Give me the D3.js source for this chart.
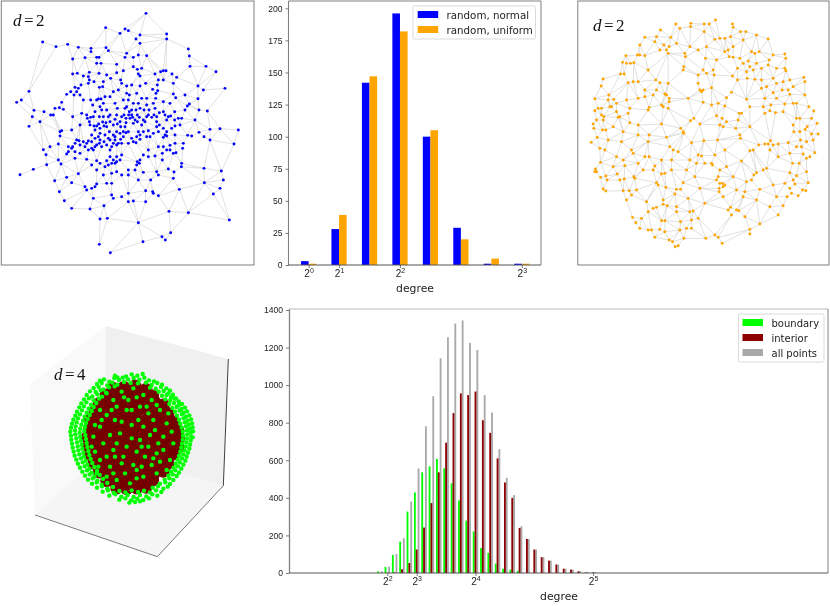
<!DOCTYPE html>
<html>
<head>
<meta charset="utf-8">
<script src="https://cdn.jsdelivr.net/npm/d3@7"></script>
<style>
  body { margin: 0; background: #fff; }
  svg { display: block; font-family: "DejaVu Sans", sans-serif; filter: blur(0.3px); }
  .axis path, .axis line { stroke: #444; stroke-width: 0.7; }
  .axis text { fill: #222; font-size: 8.6px; }
  .lbl { fill: #222; }
  .math { font-family: "Liberation Serif", serif; font-size: 17px; fill: #111; }
</style>
</head>
<body>
<div id="fig"></div>
<script>
// values, node positions are in 3x crop units
var bluePoints = [[438,40],[500,102],[500,117],[420,105],[408,117],[385,92],[375,87],[360,100],[317,83],[318,143],[325,152],[128,126],[168,140],[203,133],[235,142],[273,145],[273,155],[218,177],[255,173],[290,172],[297,172],[290,190],[303,190],[350,193],[380,160],[375,172],[400,172],[415,165],[440,167],[420,130],[565,147],[568,168],[570,199],[618,199],[648,215],[675,265],[715,390],[702,432],[664,513],[670,540],[660,565],[640,582],[613,548],[688,660],[565,638],[507,634],[538,568],[512,698],[496,720],[486,710],[429,725],[415,668],[331,758],[298,733],[300,657],[322,655],[312,617],[270,627],[215,625],[193,602],[178,575],[164,542],[140,494],[100,508],[60,524],[138,464],[130,449],[87,379],[97,350],[120,365],[102,331],[132,335],[50,307],[64,300],[87,274],[630,388],[660,386],[630,420],[612,505],[612,410],[597,397],[575,408],[563,406],[585,360],[622,333],[597,330],[594,296],[594,258],[610,270],[568,312],[562,318],[555,330],[520,250],[530,232],[516,222],[498,212],[490,212],[482,215],[465,222],[475,240],[490,240],[400,200],[412,208],[425,205],[415,222],[420,228],[370,212],[350,218],[320,225],[297,220],[268,217],[265,230],[250,228],[218,222],[232,220],[243,255],[268,240],[265,250],[282,245],[298,262],[310,245],[332,235],[362,240],[365,250],[380,258],[395,255],[420,258],[437,250],[458,268],[472,255],[468,280],[473,272],[520,282],[555,285],[527,293],[510,310],[490,305],[467,295],[440,295],[425,295],[410,280],[388,285],[380,280],[355,270],[340,275],[330,290],[308,260],[295,297],[303,297],[278,315],[300,320],[310,310],[320,330],[330,345],[352,325],[380,320],[395,330],[372,345],[235,265],[225,262],[230,275],[222,285],[240,285],[212,275],[200,283],[250,300],[185,307],[178,323],[165,325],[190,328],[160,345],[152,345],[218,350],[260,345],[262,355],[268,365],[285,335],[298,350],[310,350],[325,350],[330,365],[360,365],[365,350],[378,355],[378,368],[395,345],[408,330],[420,325],[432,330],[447,330],[465,325],[490,335],[495,345],[524,335],[524,360],[535,355],[545,355],[540,375],[525,378],[500,395],[490,385],[478,375],[470,365],[445,345],[430,360],[425,375],[435,365],[405,360],[400,370],[415,395],[430,395],[445,392],[470,380],[475,395],[450,410],[490,412],[495,405],[525,405],[550,430],[548,445],[520,460],[510,436],[490,440],[487,460],[487,480],[465,468],[445,450],[430,465],[412,485],[418,490],[410,495],[385,510],[405,510],[430,517],[470,515],[475,525],[505,507],[522,516],[520,535],[545,490],[544,500],[528,458],[180,395],[185,392],[180,408],[175,432],[150,440],[205,440],[218,440],[205,455],[200,462],[230,420],[237,422],[240,435],[250,425],[260,430],[265,423],[275,425],[280,450],[275,445],[295,410],[300,420],[298,430],[305,440],[320,435],[330,420],[345,410],[355,430],[365,430],[370,395],[375,380],[360,400],[350,395],[320,380],[312,378],[300,385],[290,378],[285,390],[270,375],[240,375],[215,390],[175,480],[183,492],[225,475],[240,460],[260,478],[275,495],[290,482],[300,490],[320,482],[330,470],[340,480],[350,485],[365,465],[330,450],[335,440],[290,510],[310,525],[315,500],[335,520],[350,515],[365,525],[235,521],[200,532],[215,548],[255,560],[260,570],[275,565],[285,560],[290,552],[280,595],[320,550],[335,585],[335,550],[340,595],[365,590],[385,580],[385,605],[400,603],[437,572],[437,605],[460,580],[458,575],[475,587],[452,540],[415,540],[385,525],[400,425],[408,428],[385,430],[395,415],[420,405],[370,410],[345,420],[325,415],[272,352],[282,378],[296,372],[308,366],[318,368],[340,375],[345,358],[352,372],[362,380],[386,345],[390,355],[398,352],[412,345],[418,352],[412,365],[440,350],[455,352],[462,345],[470,350],[478,338],[500,360],[505,350],[512,348],[515,385],[500,408],[460,400],[440,410],[420,418],[410,410],[385,395],[378,398],[362,418],[350,435],[340,430],[312,425],[290,435],[285,440],[265,450],[255,440],[225,430],[215,445],[300,400],[315,405],[328,395],[340,405],[275,405],[285,415],[350,470],[345,490],[335,490],[360,480],[325,495],[420,480],[445,470],[475,440],[500,450],[510,450],[525,430],[290,300],[315,290],[345,310],[370,300],[385,300],[400,310],[415,310],[440,315],[460,310],[375,325],[388,335],[350,345],[245,340],[280,350],[272,300],[305,330],[225,455]];

var orangePoints = [[417,60],[468,72],[470,82],[398,72],[383,72],[343,70],[342,80],[298,72],[310,85],[252,90],[240,110],[205,112],[235,125],[190,135],[183,165],[190,165],[205,167],[148,167],[138,187],[150,190],[162,190],[172,188],[215,210],[132,222],[143,222],[80,237],[74,258],[97,285],[55,296],[112,298],[120,310],[65,325],[55,332],[75,325],[100,320],[105,320],[120,335],[75,345],[82,350],[80,360],[50,372],[52,385],[78,390],[88,390],[62,412],[44,427],[70,445],[85,450],[72,487],[57,507],[55,515],[60,515],[72,532],[88,528],[92,540],[122,522],[130,540],[143,537],[80,567],[88,573],[140,572],[158,572],[165,585],[180,570],[150,600],[168,652],[195,655],[178,668],[190,685],[215,690],[225,690],[235,712],[250,688],[265,662],[255,662],[215,635],[230,625],[240,622],[210,605],[260,600],[260,613],[272,617],[300,620],[300,635],[312,665],[340,635],[350,633],[345,660],[365,655],[345,685],[330,685],[310,690],[322,715],[278,720],[288,725],[296,740],[305,737],[265,695],[388,715],[415,705],[425,712],[437,730],[520,688],[520,702],[465,645],[455,630],[462,622],[480,630],[487,632],[505,650],[550,672],[605,645],[580,620],[620,617],[632,590],[645,580],[640,565],[665,587],[678,570],[688,572],[695,548],[690,515],[660,527],[640,518],[648,490],[668,490],[690,475],[680,462],[715,458],[710,420],[725,402],[705,402],[722,370],[705,355],[692,380],[686,388],[670,395],[670,355],[660,355],[650,375],[652,395],[697,320],[712,333],[685,285],[640,283],[640,240],[682,232],[685,245],[635,270],[625,312],[600,295],[590,278],[565,295],[583,315],[580,332],[565,340],[597,338],[620,335],[660,310],[650,310],[520,380],[510,298],[520,320],[488,340],[495,340],[485,360],[478,385],[490,405],[492,415],[520,452],[530,450],[547,435],[565,432],[575,432],[582,422],[590,435],[605,432],[635,428],[660,440],[672,420],[640,460],[605,470],[580,450],[570,505],[560,510],[540,518],[532,525],[510,545],[525,540],[550,568],[590,555],[625,550],[655,552],[505,575],[480,570],[500,590],[440,590],[428,565],[428,575],[420,540],[430,550],[438,550],[440,560],[445,555],[425,530],[430,510],[405,490],[408,495],[365,465],[375,468],[360,490],[330,510],[320,548],[300,568],[312,568],[295,582],[335,595],[370,565],[355,530],[385,610],[268,562],[240,548],[245,555],[255,522],[265,520],[285,510],[235,498],[205,470],[218,470],[185,490],[172,530],[175,535],[145,497],[120,470],[170,460],[135,425],[185,405],[215,425],[218,405],[270,412],[280,440],[290,450],[305,455],[345,428],[382,422],[423,420],[415,465],[445,450],[495,483],[322,400],[313,385],[255,372],[185,375],[160,368],[140,395],[130,350],[125,352],[155,340],[160,325],[215,330],[218,322],[255,315],[260,320],[275,325],[278,305],[278,295],[270,285],[265,282],[230,285],[205,270],[205,290],[155,248],[170,245],[185,245],[238,240],[250,248],[275,250],[320,210],[322,200],[327,170],[325,160],[275,160],[270,150],[262,135],[250,150],[278,140],[283,112],[300,130],[340,140],[365,150],[390,140],[387,175],[383,95],[415,118],[430,115],[445,115],[420,180],[445,155],[458,170],[470,172],[490,175],[515,183],[520,200],[483,205],[510,215],[540,190],[578,180],[590,165],[575,117],[540,105],[508,95],[492,95],[462,110],[548,155],[625,162],[628,175],[625,205],[628,212],[535,238],[512,235],[468,228],[413,225],[410,210],[380,210],[365,225],[390,220],[483,240],[405,263],[380,270],[375,275],[370,270],[365,250],[335,295],[380,307],[405,315],[425,310],[445,318],[450,293],[465,277],[437,355],[450,365],[430,375],[420,347],[370,372],[352,355],[342,362],[320,395],[440,380],[560,320],[500,120],[470,140],[455,150],[525,155],[535,160],[500,190],[530,210],[555,205],[575,195],[600,205],[590,235],[555,240],[555,265],[570,260],[600,250],[620,245],[617,270],[650,260],[60,360],[95,300],[150,300],[185,295],[240,270],[110,380],[95,420],[110,500],[200,510],[230,510],[165,450],[140,480],[255,480],[285,480],[340,480],[385,490],[450,500],[470,530],[540,600],[600,590],[650,540],[700,470],[675,440],[690,425]];

var degrees = [1, 2, 3, 4, 5, 6, 7, 8];
var randomNormal = [3, 28, 142, 196, 100, 29, 1, 1];
var randomUniform = [1, 39, 147, 182, 105, 20, 5, 1];
var countTicks = [0, 25, 50, 75, 100, 125, 150, 175, 200];

var sphereDegrees = d3.range(3, 33);
var boundary = [9,32,96,167,327,429,536,568,607,557,477,386,278,221,133,107,50,23,18,11,0,0,0,0,0,0,0,0,0,0];
var interior = [0,1,3,20,53,125,242,372,536,694,851,956,947,966,813,746,610,482,400,240,181,125,84,66,45,23,18,9,3,3];
var allPoints = [9,34,101,185,380,557,781,941,1143,1255,1328,1344,1225,1187,947,854,659,507,415,249,181,125,85,66,45,23,18,10,5,3];
var sphereTicks = [0, 200, 400, 600, 800, 1000, 1200, 1400];

var interiorCloud = [[340,235],[372,232],[405,228],[438,238],[318,255],[345,258],[372,255],[400,250],[428,255],[458,258],[298,280],[325,278],[352,282],[380,276],[408,275],[436,280],[464,276],[490,285],[285,305],[310,302],[338,305],[365,300],[392,302],[420,298],[448,304],[476,300],[504,310],[270,330],[298,328],[324,332],[352,326],[380,328],[408,326],[436,332],[464,326],[492,332],[518,335],[268,356],[294,354],[322,358],[350,352],[378,356],[406,352],[434,358],[462,352],[490,358],[516,356],[534,362],[262,382],[290,380],[318,384],[346,378],[374,382],[402,380],[430,384],[458,378],[486,384],[512,380],[536,386],[266,408],[294,406],[322,410],[350,404],[378,408],[406,406],[434,410],[462,404],[490,410],[516,406],[534,412],[272,434],[298,432],[326,436],[354,430],[382,434],[410,432],[438,436],[466,430],[494,436],[520,432],[282,460],[308,458],[336,462],[364,456],[392,460],[420,458],[448,462],[476,456],[504,460],[298,486],[324,484],[352,488],[380,482],[408,486],[436,484],[464,488],[490,484],[320,512],[346,510],[374,514],[402,508],[430,512],[458,510],[350,534],[380,536],[410,534],[438,532]];

var boundaryCloud = [[395,193],[412,197],[428,192],[378,199],[352,202],[345,197],[300,212],[312,208],[328,215],[343,204],[357,210],[368,203],[384,208],[401,204],[418,209],[433,203],[447,211],[462,214],[291,222],[305,219],[322,226],[337,218],[352,224],[372,216],[392,219],[414,220],[438,218],[455,225],[472,219],[486,224],[281,234],[296,231],[310,238],[327,232],[344,229],[450,233],[467,236],[483,231],[499,235],[510,242],[270,244],[287,246],[302,241],[318,248],[476,245],[491,243],[505,250],[519,254],[260,255],[277,259],[292,253],[306,260],[486,257],[500,255],[514,261],[528,265],[252,268],[267,265],[281,271],[297,266],[496,268],[511,270],[524,266],[536,274],[244,280],[259,277],[273,284],[289,279],[508,282],[522,279],[536,285],[546,282],[238,292],[252,289],[266,296],[281,291],[517,294],[530,291],[544,297],[555,293],[231,305],[246,301],[260,308],[275,303],[525,305],[539,302],[551,308],[561,304],[226,317],[240,313],[254,320],[269,315],[531,317],[546,313],[558,320],[568,316],[220,329],[234,325],[249,332],[263,327],[537,329],[551,325],[563,332],[573,328],[216,341],[230,337],[244,344],[258,339],[541,341],[555,337],[566,344],[576,340],[213,353],[227,349],[241,356],[255,351],[545,353],[558,349],[570,356],[578,352],[211,365],[225,361],[239,368],[253,363],[548,365],[561,361],[572,368],[579,364],[213,377],[226,373],[241,380],[256,375],[549,377],[562,373],[574,380],[214,389],[229,385],[243,392],[258,387],[548,389],[561,385],[572,392],[578,382],[216,401],[231,397],[245,404],[260,399],[546,401],[559,397],[570,404],[218,413],[233,409],[247,416],[262,411],[544,413],[557,409],[568,416],[221,425],[235,421],[250,428],[265,423],[541,425],[554,421],[564,428],[224,437],[238,433],[252,440],[268,435],[537,437],[550,433],[560,440],[229,449],[243,445],[257,452],[272,447],[533,449],[546,445],[556,452],[234,461],[248,457],[262,464],[277,459],[527,461],[540,457],[550,464],[240,473],[254,469],[268,476],[283,471],[521,473],[534,469],[544,476],[247,485],[261,481],[275,488],[291,483],[513,485],[526,481],[537,488],[255,497],[269,493],[283,500],[299,495],[505,497],[518,493],[530,498],[264,509],[278,505],[292,512],[309,507],[494,509],[508,505],[520,510],[276,521],[290,517],[305,524],[322,519],[480,521],[496,517],[510,522],[291,533],[306,529],[322,536],[339,531],[458,533],[474,529],[490,536],[503,530],[308,545],[324,541],[341,548],[358,543],[376,547],[395,541],[414,546],[432,542],[450,547],[468,541],[484,546],[328,557],[346,553],[364,560],[383,555],[401,561],[420,555],[439,559],[457,553],[472,557],[358,569],[376,565],[394,571],[412,566],[430,570],[447,565],[388,578],[405,576],[420,574],[350,290],[365,245],[400,235],[320,315],[345,330],[380,300],[420,290],[455,270],[480,300],[500,340],[460,330],[430,350],[395,345],[360,370],[300,350],[280,380],[310,400],[340,420],[380,410],[420,390],[450,375],[490,380],[520,400],[510,450],[470,430],[435,440],[400,465],[365,460],[330,470],[300,450],[290,490],[350,510],[390,520],[430,500],[470,490],[500,480],[330,375],[415,330],[445,310],[385,270],[340,270],[320,250],[430,255],[395,300],[465,360],[285,425],[320,440],[410,425],[455,465],[375,490],[365,335],[335,300],[490,420],[300,300],[410,505],[345,440],[445,410],[475,400],[372,262],[410,262],[440,290],[470,285],[305,330],[285,345],[275,410],[295,470],[320,500],[425,470],[480,455],[515,365],[505,310],[370,440],[395,385],[350,400],[425,410],[460,445],[340,490],[410,480]];

var legendBars = ["random, normal", "random, uniform"];
var legendSphere = ["boundary", "interior", "all points"];

var width = 830, height = 606;

var svg = d3.select("#fig").append("svg")
    .attr("width", width)
    .attr("height", height);

// gabriel graph of the read nodes stands in for the edges
function gabrielEdges(points) {
    var del = d3.Delaunay.from(points);
    var edges = [];
    for (var e = 0; e < del.halfedges.length; e++) {
        var j = del.halfedges[e];
        if (j < e) continue;
        var a = del.triangles[e], b = del.triangles[e % 3 == 2 ? e - 2 : e + 1];
        var mx = (points[a][0] + points[b][0]) / 2, my = (points[a][1] + points[b][1]) / 2;
        var r2 = Math.pow(points[a][0] - mx, 2) + Math.pow(points[a][1] - my, 2);
        var empty = points.every(function (p, i) {
            if (i == a || i == b) return true;
            return Math.pow(p[0] - mx, 2) + Math.pow(p[1] - my, 2) >= r2 * 0.8;
        });
        if (empty) edges.push([points[a], points[b]]);
    }
    return edges;
}

function spine(x1, y1, x2, y2, color, w) {
    svg.append("line")
        .attr("x1", x1).attr("y1", y1).attr("x2", x2).attr("y2", y2)
        .attr("stroke", color).attr("stroke-width", w);
}

function networkPanel(points, left, right, color) {
    var x = d3.scaleLinear().domain([0, 765]).range([left - 1.3, left - 1.3 + 255]);
    var y = d3.scaleLinear().domain([0, 800]).range([0, 266.7]);
    var g = svg.append("g");
    g.selectAll("line")
        .data(gabrielEdges(points))
        .enter().append("line")
        .attr("x1", function (d) { return x(d[0][0]); })
        .attr("y1", function (d) { return y(d[0][1]); })
        .attr("x2", function (d) { return x(d[1][0]); })
        .attr("y2", function (d) { return y(d[1][1]); })
        .attr("stroke", "#cccccc")
        .attr("stroke-width", 0.6);
    g.selectAll("circle")
        .data(points)
        .enter().append("circle")
        .attr("cx", function (d) { return x(d[0]); })
        .attr("cy", function (d) { return y(d[1]); })
        .attr("r", 1.45)
        .attr("fill", color);
    g.append("rect")
        .attr("x", left).attr("y", 1)
        .attr("width", right - left).attr("height", 264)
        .attr("fill", "none")
        .attr("stroke", "#7f7f7f")
        .attr("stroke-width", 1);
}

networkPanel(bluePoints, 1.3, 254, "#0000ff");
networkPanel(orangePoints, 577.8, 829, "#ffa500");

function mathLabel(px, py, digit) {
    var t = svg.append("text").attr("class", "math").attr("x", px).attr("y", py);
    t.append("tspan").attr("font-style", "italic").text("d");
    t.append("tspan").attr("dx", 2.5).text("=");
    t.append("tspan").attr("dx", 2.5).text(digit);
}
mathLabel(13, 26, "2");
mathLabel(593, 31, "2");

// powers of two on the tick marks
function powerTicks(sel, exps) {
    sel.selectAll(".tick text").each(function (d, i) {
        var t = d3.select(this).text("");
        t.append("tspan").attr("font-size", "10px").text("2");
        t.append("tspan").attr("font-size", "7px").attr("dy", "-4").text(exps[i]);
    });
}

// top bar chart
var barX = d3.scaleLinear().domain([0.34, 8.63]).range([288.5, 541]);
var barY = d3.scaleLinear().domain([0, 200]).range([265, 8.3]);
var barW = barX(1.25) - barX(1);

svg.append("g").selectAll("rect")
    .data(degrees)
    .enter().append("rect")
    .attr("x", function (d) { return barX(d) - barW; })
    .attr("y", function (d, i) { return barY(randomNormal[i]); })
    .attr("width", barW)
    .attr("height", function (d, i) { return barY(0) - barY(randomNormal[i]); })
    .attr("fill", "#0000ff");

svg.append("g").selectAll("rect")
    .data(degrees)
    .enter().append("rect")
    .attr("x", function (d) { return barX(d); })
    .attr("y", function (d, i) { return barY(randomUniform[i]); })
    .attr("width", barW)
    .attr("height", function (d, i) { return barY(0) - barY(randomUniform[i]); })
    .attr("fill", "#ffa500");

spine(288.5, 1, 288.5, 265, "#808080", 1.1);
spine(288.5, 1, 541, 1, "#808080", 1);
spine(541, 1, 541, 265, "#808080", 1);
spine(288, 265, 541, 265, "#555", 1);

svg.append("g").attr("class", "axis")
    .attr("transform", "translate(288.5,0)")
    .call(d3.axisLeft(barY).tickValues(countTicks).tickSize(3).tickSizeOuter(0))
    .call(function (g) { g.select(".domain").remove(); });

svg.append("g").attr("class", "axis")
    .attr("transform", "translate(0,265)")
    .call(d3.axisBottom(barX).tickValues([1, 2, 4, 8]).tickSize(3).tickSizeOuter(0))
    .call(function (g) { g.select(".domain").remove(); })
    .call(powerTicks, [0, 1, 2, 3]);

svg.append("text").attr("class", "lbl")
    .attr("x", 415).attr("y", 292)
    .attr("text-anchor", "middle").attr("font-size", "10.8px")
    .text("degree");

var legendA = svg.append("g");
legendA.append("rect")
    .attr("x", 413).attr("y", 6).attr("width", 122.5).attr("height", 33).attr("rx", 1.5)
    .attr("fill", "#fff").attr("fill-opacity", 0.8).attr("stroke", "#ccc").attr("stroke-width", 0.7);
legendA.selectAll("g")
    .data(legendBars)
    .enter().append("g")
    .each(function (d, i) {
        var g = d3.select(this);
        g.append("rect")
            .attr("x", 417.7).attr("y", 11 + i * 15).attr("width", 20.5).attr("height", 7)
            .attr("fill", i == 0 ? "#0000ff" : "#ffa500");
        g.append("text").attr("class", "lbl")
            .attr("x", 446.5).attr("y", 18.5 + i * 15)
            .attr("font-size", "10.3px")
            .text(d);
    });

// sphere panel, positions in 3x crop units
var sx = d3.scaleLinear().domain([0, 750]).range([0, 250]);
var sy = d3.scaleLinear().domain([0, 888]).range([310, 606]);
var paneCorners = {
    left: [[90,222],[318,48],[312,425],[105,615]],
    back: [[318,48],[685,147],[670,527],[312,425]],
    floor: [[105,615],[472,740],[670,527],[312,425]]
};
var paneLine = d3.line()
    .x(function (d) { return sx(d[0]); })
    .y(function (d) { return sy(d[1]); })
    .curve(d3.curveLinearClosed);
var s3 = svg.append("g");
s3.append("path").attr("d", paneLine(paneCorners.left)).attr("fill", "#f9f9f9");
s3.append("path").attr("d", paneLine(paneCorners.back)).attr("fill", "#f0f0f0");
s3.append("path").attr("d", paneLine(paneCorners.floor)).attr("fill", "#f5f5f5");

var edgeLine = d3.line()
    .x(function (d) { return sx(d[0]); })
    .y(function (d) { return sy(d[1]); });
s3.append("path").attr("d", edgeLine([[105,615],[472,740],[670,527]]))
    .attr("fill", "none").attr("stroke", "#444").attr("stroke-width", 0.7);
s3.append("path").attr("d", edgeLine([[670,527],[685,147]]))
    .attr("fill", "none").attr("stroke", "#111").attr("stroke-width", 0.8);

s3.append("g").selectAll("circle")
    .data(interiorCloud)
    .enter().append("circle")
    .attr("cx", function (d) { return sx(d[0]); })
    .attr("cy", function (d) { return sy(d[1]); })
    .attr("r", 6.4)
    .attr("fill", "#760000");
s3.append("g").selectAll("circle")
    .data(boundaryCloud)
    .enter().append("circle")
    .attr("cx", function (d) { return sx(d[0]); })
    .attr("cy", function (d) { return sy(d[1]); })
    .attr("r", 2.2)
    .attr("fill", "#00ff00");
mathLabel(54, 380, "4");

// bottom histogram
var histX = d3.scaleLinear().domain([4, 32]).range([387.3, 593.1]);
var histY = d3.scaleLinear().domain([0, 1400]).range([573, 310]);
var histW = histX(4.25) - histX(4);

function histBars(values, color, offset) {
    svg.append("g").selectAll("rect")
        .data(sphereDegrees)
        .enter().append("rect")
        .attr("x", function (d) { return histX(d) + offset * histW - histW / 2; })
        .attr("y", function (d, i) { return histY(values[i]); })
        .attr("width", histW)
        .attr("height", function (d, i) { return histY(0) - histY(values[i]); })
        .attr("fill", color);
}
histBars(allPoints, "#a9a9a9", 1);
histBars(boundary, "#00ff00", -1);
histBars(interior, "#8b0000", 0);

spine(289.5, 309, 289.5, 573, "#808080", 1.3);
spine(289, 309, 828, 309, "#bbb", 1);
spine(828, 309, 828, 573, "#666", 0.8);
spine(289, 573, 828, 573, "#444", 0.9);

svg.append("g").attr("class", "axis")
    .attr("transform", "translate(289,0)")
    .call(d3.axisLeft(histY).tickValues(sphereTicks).tickFormat(d3.format("d")).tickSize(3).tickSizeOuter(0))
    .call(function (g) { g.select(".domain").remove(); });

svg.append("g").attr("class", "axis")
    .attr("transform", "translate(0,573)")
    .call(d3.axisBottom(histX).tickValues([4, 8, 16, 32]).tickSize(3).tickSizeOuter(0))
    .call(function (g) { g.select(".domain").remove(); })
    .call(powerTicks, [2, 3, 4, 5]);

svg.append("text").attr("class", "lbl")
    .attr("x", 559).attr("y", 600)
    .attr("text-anchor", "middle").attr("font-size", "10.8px")
    .text("degree");

var legendB = svg.append("g");
legendB.append("rect")
    .attr("x", 738.5).attr("y", 314).attr("width", 85.5).attr("height", 48).attr("rx", 1.5)
    .attr("fill", "#fff").attr("fill-opacity", 0.8).attr("stroke", "#ccc").attr("stroke-width", 0.7);
legendB.selectAll("g")
    .data(legendSphere)
    .enter().append("g")
    .each(function (d, i) {
        var g = d3.select(this);
        g.append("rect")
            .attr("x", 742.5).attr("y", 319 + i * 15).attr("width", 20.5).attr("height", 7)
            .attr("fill", ["#00ff00", "#8b0000", "#a9a9a9"][i]);
        g.append("text").attr("class", "lbl")
            .attr("x", 771.5).attr("y", 326.5 + i * 15)
            .attr("font-size", "10px")
            .text(d);
    });
</script>
</body>
</html>
